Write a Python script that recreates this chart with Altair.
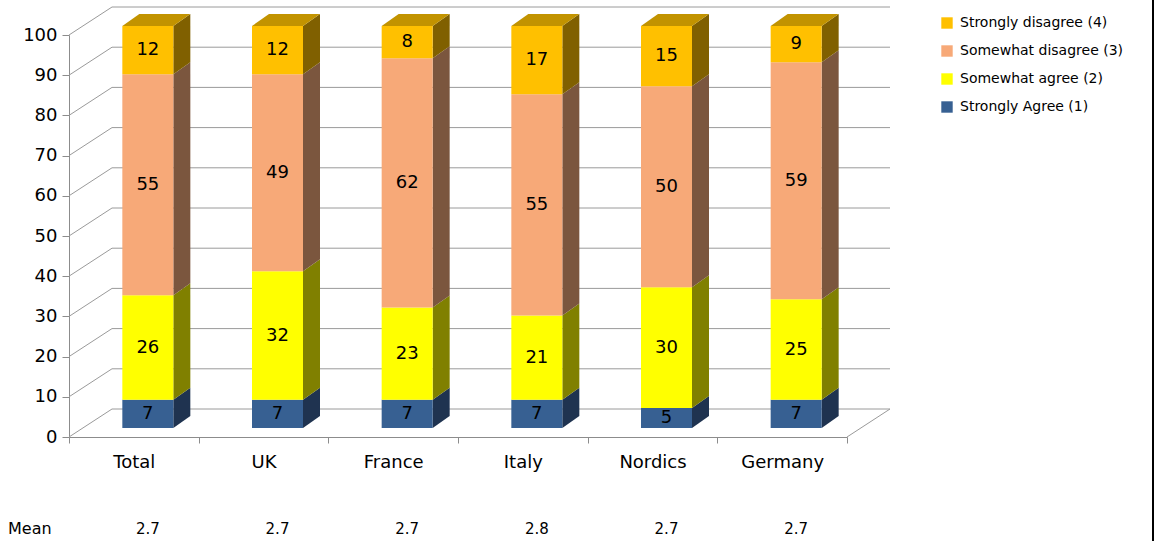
import json

import altair as alt
import pandas as pd

# ---- survey results (percent of respondents) ----
categories = ["Total", "UK", "France", "Italy", "Nordics", "Germany"]
segments = ["Strongly Agree (1)", "Somewhat agree (2)", "Somewhat disagree (3)", "Strongly disagree (4)"]
strongly_agree = [7, 7, 7, 7, 5, 7]
somewhat_agree = [26, 32, 23, 21, 30, 25]
somewhat_disagree = [55, 49, 62, 55, 50, 59]
strongly_disagree = [12, 12, 8, 17, 15, 9]
means = [2.7, 2.7, 2.7, 2.8, 2.7, 2.7]
y_ticks = list(range(0, 101, 10))

# ---- styling ----
front_colors = ["#376092", "#FFFF00", "#F7A978", "#FFC000"]
side_colors = ["#1F3350", "#808000", "#7B563E", "#806000"]
top_color = "#C29300"
grid_color = "#9a9a9a"
axis_color = "#8c8c8c"
FONT = "DejaVu Sans"

PLOT_W, PLOT_H = 778, 402
PX_X = PLOT_W / len(categories)   # pixels per category band
PX_Y = PLOT_H / 100               # pixels per percentage point


def ux(px):
    return px / PX_X


def uy(px):
    return px / PX_Y


# 3-D look: bars sit a third of the way into the floor, with a shallow depth
BAR_HALF = ux(25.5)
SHIFT_X, SHIFT_Y = ux(14), uy(9)
DEPTH_X, DEPTH_Y = ux(17), uy(12)
WALL_X, WALL_Y = ux(43), uy(28)

XS = alt.Scale(domain=[0, len(categories)], nice=False, zero=False)
YS = alt.Scale(domain=[0, 100], nice=False, zero=False)

label_expr = json.dumps(categories) + "[datum.value] || ''"
X_AXIS = alt.Axis(
    values=list(range(len(categories) + 1)), labelExpr=label_expr,
    labelOffset=PX_X / 2, labelAlign="center", labelFlush=False, labelOverlap=False,
    tickSize=6, labelPadding=10, labelFontSize=18, labelFont=FONT, labelColor="black",
    domainColor=axis_color, tickColor=axis_color, grid=False, title=None,
)
Y_AXIS = alt.Axis(
    values=y_ticks, tickSize=7, labelPadding=5, labelFontSize=18, labelFont=FONT,
    labelColor="black", domainColor=axis_color, tickColor=axis_color, grid=False,
    title=None,
)


def X(field):
    return alt.X(f"{field}:Q", scale=XS, axis=X_AXIS)


def Y(field):
    return alt.Y(f"{field}:Q", scale=YS, axis=Y_AXIS)


# ---- build the stacked pieces ----
series = [strongly_agree, somewhat_agree, somewhat_disagree, strongly_disagree]
front_rows, side_rows, top_rows = [], [], []
for i, cat in enumerate(categories):
    xl = i + 0.5 - BAR_HALF + SHIFT_X
    xr = i + 0.5 + BAR_HALF + SHIFT_X
    lo = 0
    for s, seg in enumerate(segments):
        v = series[s][i]
        hi = lo + v
        front_rows.append(dict(cat=cat, seg=seg, value=v, x=xl, x2=xr,
                               y=lo + SHIFT_Y, y2=hi + SHIFT_Y,
                               xm=(xl + xr) / 2, ym=(lo + hi) / 2 + SHIFT_Y))
        key = f"{cat}|{seg}"
        side_rows.append(dict(key=key, seg=seg, x=xr, y=lo + SHIFT_Y, y2=hi + SHIFT_Y))
        side_rows.append(dict(key=key, seg=seg, x=xr + DEPTH_X,
                              y=lo + SHIFT_Y + DEPTH_Y, y2=hi + SHIFT_Y + DEPTH_Y))
        lo = hi
    top = lo + SHIFT_Y
    for px, ylo, yhi in [(xl, top, top), (xl + DEPTH_X, top, top + DEPTH_Y),
                         (xr, top, top + DEPTH_Y), (xr + DEPTH_X, top + DEPTH_Y, top + DEPTH_Y)]:
        top_rows.append(dict(key=cat, x=px, y=ylo, y2=yhi))

front_df = pd.DataFrame(front_rows)
side_df = pd.DataFrame(side_rows)
top_df = pd.DataFrame(top_rows)
mean_df = pd.DataFrame({"cat": categories, "mean": [f"{m:.1f}" for m in means],
                        "xm": [i + 0.5 + SHIFT_X for i in range(len(categories))]})

# ---- walls and floor ----
n = len(categories)
wall_rows = [dict(x=0, x2=WALL_X, y=v, y2=v + WALL_Y) for v in y_ticks]
wall_rows += [dict(x=WALL_X, x2=n + WALL_X, y=v + WALL_Y, y2=v + WALL_Y) for v in y_ticks]
wall_rows.append(dict(x=n, x2=n + WALL_X, y=0, y2=WALL_Y))
wall_df = pd.DataFrame(wall_rows)

walls = alt.Chart(wall_df).mark_rule(color=grid_color, strokeWidth=1).encode(
    x=X("x"), x2="x2", y=Y("y"), y2="y2"
)

sides = alt.Chart(side_df).mark_area(interpolate="linear").encode(
    x=X("x"), y=Y("y"), y2="y2", detail="key:N",
    color=alt.Color("seg:N", scale=alt.Scale(domain=segments, range=side_colors), legend=None),
)

tops = alt.Chart(top_df).mark_area(interpolate="linear", color=top_color).encode(
    x=X("x"), y=Y("y"), y2="y2", detail="key:N",
)

fronts = alt.Chart(front_df).mark_rect().encode(
    x=X("x"), x2="x2", y=Y("y"), y2="y2",
    color=alt.Color(
        "seg:N",
        scale=alt.Scale(domain=segments[::-1], range=front_colors[::-1]),
        legend=alt.Legend(
            orient="none", legendX=871, legendY=-19, title=None,
            symbolType="square", symbolSize=130, symbolStrokeWidth=0,
            labelFontSize=14, labelFont=FONT, labelColor="black", labelLimit=400,
            rowPadding=14, labelOffset=6,
        ),
    ),
)

values = alt.Chart(front_df).mark_text(
    font=FONT, fontSize=18, color="black", align="center", baseline="middle"
).encode(x=X("xm"), y=Y("ym"), text="value:Q")

mean_vals = alt.Chart(mean_df).mark_text(
    font=FONT, fontSize=15, color="black", align="center", baseline="middle"
).encode(x=X("xm"), y=alt.value(494), text="mean:N")

mean_title = alt.Chart(pd.DataFrame({"t": ["Mean"]})).mark_text(
    font=FONT, fontSize=16, color="black", align="left", baseline="middle"
).encode(x=alt.value(-61), y=alt.value(494), text="t:N")

border = alt.Chart(pd.DataFrame({"a": [0]})).mark_rule(color="black", strokeWidth=2).encode(
    x=alt.value(1084), y=alt.value(-35), y2=alt.value(506)
)

chart = (
    alt.layer(walls, sides, tops, fronts, values, mean_vals, mean_title, border)
    .resolve_scale(color="independent")
    .properties(
        width=PLOT_W, height=PLOT_H,
        padding={"left": 69, "top": 35, "right": 1155 - 69 - PLOT_W, "bottom": 541 - 35 - PLOT_H},
        autosize=alt.AutoSizeParams(type="none"),
        background="white",
    )
    .configure(font=FONT)
    .configure_view(stroke=None, strokeWidth=0)
)

chart.save("out.html", embed_options={"renderer": "svg", "actions": False})
